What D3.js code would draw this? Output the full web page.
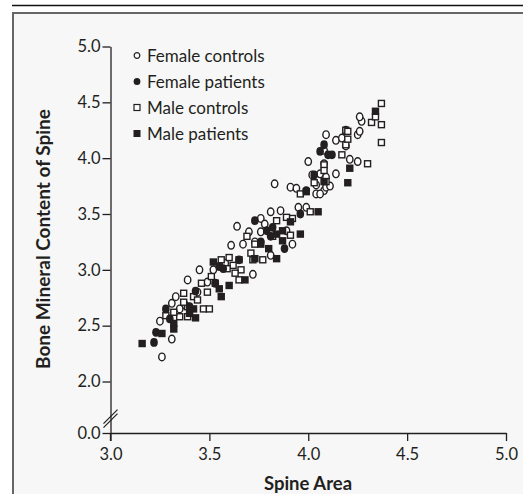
<!DOCTYPE html>
<meta charset="utf-8">
<style>
body{margin:0;background:#fff;}
svg text{font-family:Lato,"Open Sans",sans-serif;fill:#231f20;}
.axis path,.axis line{stroke:#231f20;stroke-width:1.3px;}
.axis text{font-size:16.5px;}
</style>
<svg id="chart" width="523" height="494"></svg>
<script src="https://d3js.org/d3.v7.min.js"></script>
<script>
// spine area vs bone mineral content, one array of [area, bmc] per group
const femaleControls = [
  [3.26,2.22],[3.31,2.38],[3.25,2.54],[3.31,2.70],[3.35,2.65],[3.38,2.68],[3.44,2.80],
  [3.61,3.22],[3.67,3.23],[3.45,3.00],[3.52,3.00],[3.72,2.96],[3.81,3.13],[3.76,3.34],
  [3.73,3.25],[3.58,3.06],[3.83,3.77],[3.91,3.74],[3.94,3.73],[4.04,3.68],[4.08,3.71],
  [4.09,3.74],[3.95,3.56],[3.99,3.56],[3.81,3.52],[3.86,3.53],[3.76,3.46],[4.04,3.76],
  [4.06,3.68],[3.78,3.41],[4.09,4.21],[4.14,4.16],[4.17,4.18],[4.25,4.21],[4.26,4.24],
  [4.27,4.33],[4.26,4.37],[4.08,3.95],[4.00,3.97],[4.25,3.97],[4.21,3.99],[4.14,3.86],
  [4.06,3.86],[4.09,3.83],[4.19,4.11],[4.19,4.25],[4.11,3.75],[4.02,3.85],[4.08,4.07],
  [3.64,3.39],[3.70,3.34],[3.89,3.35],[3.92,3.23],[3.49,2.89],[3.39,2.91],[3.33,2.76]
]
const femalePatients = [
  [3.22,2.35],[3.23,2.44],[3.28,2.65],[3.40,2.67],[3.55,3.03],[3.57,3.01],[3.53,2.88],
  [3.99,3.71],[3.73,3.44],[3.79,3.35],[3.82,3.38],[3.96,3.50],[3.81,3.30],[4.08,4.12],
  [4.06,4.06],[4.10,4.03],[4.03,3.85],[4.12,4.03],[3.76,3.25],[3.43,2.81],[3.65,3.09],
  [3.88,3.19],[3.30,2.56]
]
const maleControls = [
  [3.28,2.59],[3.35,2.58],[3.39,2.58],[3.32,2.62],[3.37,2.79],[3.47,2.65],[3.50,2.65],
  [3.42,2.76],[3.46,2.88],[3.49,2.80],[3.39,2.67],[3.37,2.71],[3.56,3.09],[3.60,3.11],
  [3.65,3.09],[3.62,3.04],[3.66,3.00],[3.63,2.97],[3.65,2.91],[3.59,3.01],[3.73,3.23],
  [3.71,3.15],[3.77,3.09],[3.72,3.09],[3.96,3.68],[4.01,3.52],[3.92,3.46],[3.84,3.44],
  [3.89,3.47],[3.91,3.31],[3.82,3.30],[4.19,4.25],[4.32,4.32],[4.37,4.30],[4.37,4.49],
  [4.34,4.37],[4.37,4.14],[4.30,3.95],[4.08,3.94],[4.17,4.03],[4.19,4.12],[4.20,4.24],
  [4.20,4.17],[4.08,3.89],[4.09,3.79],[4.03,3.78],[3.51,2.94],[3.44,2.73],[3.69,3.30]
]
const malePatients = [
  [3.16,2.34],[3.26,2.43],[3.32,2.47],[3.32,2.52],[3.43,2.57],[3.42,2.65],[3.55,2.83],
  [3.56,2.76],[3.60,2.86],[3.68,2.91],[3.76,3.23],[3.73,3.10],[3.84,3.10],[3.80,3.19],
  [4.05,3.52],[3.96,3.32],[3.84,3.32],[3.87,3.35],[3.99,3.70],[3.87,3.26],[4.34,4.42],
  [4.21,3.91],[4.20,3.78],[4.08,3.79],[3.40,2.61],[3.53,2.88],[3.52,3.07],[3.91,3.43]
]
const xTicks = [3.0, 3.5, 4.0, 4.5, 5.0]
const yTicks = [0.0, 2.0, 2.5, 3.0, 3.5, 4.0, 4.5, 5.0]
const legendLabels = ['Female controls', 'Female patients', 'Male controls', 'Male patients']

const ink = '#231f20'
let svg = d3.select('#chart')

// page rule + grey panel
svg.append('line').attr('x1', 12).attr('x2', 523).attr('y1', 5.5).attr('y2', 5.5)
  .attr('stroke', '#111').attr('stroke-width', 1.5)
svg.append('rect').attr('x', 13).attr('y', 13).attr('width', 600).attr('height', 600)
  .attr('fill', '#f7f7f7').attr('stroke', '#666').attr('stroke-width', 2)

// y has a break between 0 and 2
let x = d3.scaleLinear().domain([3, 5]).range([110.5, 506])
let y = d3.scaleLinear().domain([0, 2, 5]).range([433, 381.5, 46.5])

svg.append('g').attr('class', 'axis').attr('transform', 'translate(0,433)')
  .call(d3.axisBottom(x).tickValues(xTicks).tickFormat(d3.format('.1f')).tickSize(8).tickSizeOuter(0).tickPadding(7))
svg.append('g').attr('class', 'axis').attr('transform', 'translate(110.5,0)')
  .call(d3.axisLeft(y).tickValues(yTicks).tickFormat(d3.format('.1f')).tickSize(8).tickSizeOuter(0).tickPadding(2))
// y axis line runs on to the bottom of the x ticks
svg.append('line').attr('x1', 110.5).attr('x2', 110.5).attr('y1', 433).attr('y2', 441)
  .attr('stroke', ink).attr('stroke-width', 1.3)

// break marks
let yb = y(0.6)
;[0, 4].forEach(off => {
  svg.append('line').attr('x1', 103.5).attr('x2', 117.5)
    .attr('y1', yb + 6 + off).attr('y2', yb - 8 + off)
    .attr('stroke', ink).attr('stroke-width', 1.2)
})

// axis titles
svg.append('text').attr('transform', 'translate(50,239) rotate(-90)')
  .attr('text-anchor', 'middle').style('font-size', '19px').style('font-weight', 'bold')
  .text('Bone Mineral Content of Spine')
svg.append('text').attr('x', 308).attr('y', 489.5)
  .attr('text-anchor', 'middle').style('font-size', '18.5px').style('font-weight', 'bold')
  .text('Spine Area')

// markers
function circles(data, filled){
  svg.append('g').selectAll('ellipse').data(data).enter().append('ellipse')
    .attr('cx', d => x(d[0])).attr('cy', d => y(d[1]))
    .attr('rx', filled ? 3.8 : 3.2).attr('ry', filled ? 4.4 : 3.8)
    .attr('fill', filled ? ink : '#fff').attr('stroke', filled ? 'none' : ink).attr('stroke-width', 1.4)
}
function squares(data, filled){
  let s = filled ? 7.4 : 6
  svg.append('g').selectAll('rect').data(data).enter().append('rect')
    .attr('x', d => x(d[0]) - s/2).attr('y', d => y(d[1]) - s/2)
    .attr('width', s).attr('height', s)
    .attr('fill', filled ? ink : '#fff').attr('stroke', filled ? 'none' : ink).attr('stroke-width', 1.4)
}
circles(femaleControls, false)
squares(maleControls, false)
circles(femalePatients, true)
squares(malePatients, true)

// legend
let legend = svg.append('g').selectAll('g').data(legendLabels).enter().append('g')
  .attr('transform', (d, i) => `translate(137,${55.5 + i * 26})`)
legend.each(function(d, i){
  let g = d3.select(this)
  if (i < 2) g.append('ellipse').attr('rx', i ? 3.4 : 2.8).attr('ry', i ? 3.6 : 2.8)
    .attr('fill', i ? ink : '#fff').attr('stroke', i ? 'none' : ink).attr('stroke-width', 1.2)
  else g.append('rect').attr('x', i == 2 ? -3 : -3.5).attr('y', i == 2 ? -3 : -3.5)
    .attr('width', i == 2 ? 6 : 7).attr('height', i == 2 ? 6 : 7)
    .attr('fill', i == 2 ? '#fff' : ink).attr('stroke', i == 2 ? ink : 'none').attr('stroke-width', 1.2)
})
legend.append('text').attr('x', 10).attr('y', 6).style('font-size', '17px').text(d => d)
</script>
